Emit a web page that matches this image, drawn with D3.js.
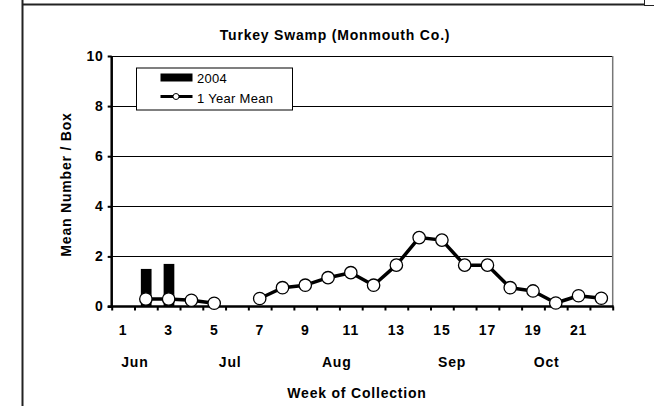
<!DOCTYPE html>
<html>
<head>
<meta charset="utf-8">
<script src="https://cdn.jsdelivr.net/npm/d3@7"></script>
<style>
  body { margin: 0; background: #fff; }
  svg { display: block; font-family: "Liberation Sans", Arial, sans-serif; }
</style>
</head>
<body>
<div id="chart"></div>
<script>
// Chart data
let weeks = d3.range(1, 23);
let bars2004 = [null, 1.5, 1.7, null, null, null, null, null, null, null, null,
                null, null, null, null, null, null, null, null, null, null, null];
let yearMean = [null, 0.3, 0.3, 0.25, 0.13, null, 0.32, 0.75, 0.85, 1.15, 1.35,
                0.85, 1.65, 2.75, 2.65, 1.65, 1.65, 0.75, 0.62, 0.14, 0.43, 0.33];
let yTicks = [0, 2, 4, 6, 8, 10];
let xTickLabels = [1, 3, 5, 7, 9, 11, 13, 15, 17, 19, 21];
let months = ["Jun", "Jul", "Aug", "Sep", "Oct"];
let monthPos = [1.52, 5.7, 10.38, 15.45, 19.6];

// Set size
let w = 654;
let h = 406;
let plotLeft = 111.7, plotRight = 612.7, plotTop = 56, plotBottom = 306.5;

let svg = d3.select("#chart").append("svg").attr("width", w).attr("height", h);

function boldText(sel) {
  return sel.attr("font-size", "14px").attr("font-weight", "bold")
    .attr("letter-spacing", "0.8px").attr("fill", "#000");
}

// Outer frame
svg.append("line").attr("x1", 22.5).attr("x2", 22.5).attr("y1", 0).attr("y2", h)
  .attr("stroke", "#222").attr("stroke-width", 2);
svg.append("line").attr("x1", 22).attr("x2", 644).attr("y1", 4.5).attr("y2", 4.5)
  .attr("stroke", "#222").attr("stroke-width", 2);
svg.append("line").attr("x1", 644).attr("x2", w).attr("y1", 5.5).attr("y2", 5.5)
  .attr("stroke", "#222").attr("stroke-width", 1);
svg.append("line").attr("x1", 644.5).attr("x2", 644.5).attr("y1", 0).attr("y2", 5)
  .attr("stroke", "#222").attr("stroke-width", 1);

let xScale = d3.scaleBand().domain(weeks).range([plotLeft, plotRight]).padding(0);
let xPos = d3.scaleLinear().domain([0.5, 22.5]).range([plotLeft, plotRight]);
let yScale = d3.scaleLinear().domain([0, 10]).range([plotBottom, plotTop]);

// Gridlines
svg.append("g")
  .selectAll("line")
  .data(yTicks.filter((d) => d > 0))
  .enter()
  .append("line")
  .attr("x1", plotLeft).attr("x2", plotRight)
  .attr("y1", (d) => Math.round(yScale(d)) + 0.5)
  .attr("y2", (d) => Math.round(yScale(d)) + 0.5)
  .attr("stroke", "#000").attr("stroke-width", 1);

// Right border
svg.append("line").attr("x1", plotRight).attr("x2", plotRight)
  .attr("y1", plotTop).attr("y2", plotBottom)
  .attr("stroke", "#777").attr("stroke-width", 1.5);

// Bars
svg.append("g")
  .selectAll("rect")
  .data(weeks.filter((d, i) => bars2004[i] != null))
  .enter()
  .append("rect")
  .attr("x", (d) => xScale(d) + xScale.bandwidth() * 0.28)
  .attr("width", xScale.bandwidth() * 0.47)
  .attr("y", (d) => yScale(bars2004[d - 1]))
  .attr("height", (d) => plotBottom - yScale(bars2004[d - 1]))
  .attr("fill", "#000");

// Axes
let yAxis = d3.axisLeft(yScale).tickValues(yTicks).tickSize(4).tickFormat(d3.format("d"));
let gy = svg.append("g").attr("transform", "translate(" + plotLeft + ",0)").call(yAxis);
gy.select(".domain").attr("stroke-width", 2.5).attr("d", "M0," + plotTop + "V" + plotBottom);
gy.selectAll(".tick line").attr("stroke-width", 2);
boldText(gy.selectAll(".tick text"))
  .attr("font-family", "Liberation Sans, Arial, sans-serif").attr("x", -8);

let xAxis = d3.axisBottom(xPos).tickValues(d3.range(0.5, 23.5, 1)).tickSize(4).tickFormat("");
let gx = svg.append("g").attr("transform", "translate(0," + plotBottom + ")").call(xAxis);
gx.select(".domain").attr("stroke-width", 2.5).attr("d", "M" + (plotLeft - 4) + ",0H" + (plotRight + 1));
gx.selectAll(".tick line").attr("stroke-width", 2);

boldText(svg.append("g")
  .selectAll("text")
  .data(xTickLabels)
  .enter()
  .append("text")
  .text((d) => d)
  .attr("x", (d) => xScale(d) + xScale.bandwidth() / 2)
  .attr("y", 335)
  .attr("text-anchor", "middle"));

boldText(svg.append("g")
  .selectAll("text")
  .data(months)
  .enter()
  .append("text")
  .text((d) => d)
  .attr("x", (d, i) => xPos(monthPos[i]))
  .attr("y", 366.5)
  .attr("text-anchor", "middle"));

// Line
let line = d3.line()
  .defined((d, i) => yearMean[i] != null)
  .x((d) => xScale(d) + xScale.bandwidth() / 2)
  .y((d, i) => yScale(yearMean[i]));
svg.append("path").datum(weeks).attr("d", line)
  .attr("fill", "none").attr("stroke", "#000").attr("stroke-width", 3.5)
  .attr("stroke-linejoin", "round");

svg.append("g")
  .selectAll("circle")
  .data(weeks.filter((d, i) => yearMean[i] != null))
  .enter()
  .append("circle")
  .attr("cx", (d) => xScale(d) + xScale.bandwidth() / 2)
  .attr("cy", (d) => yScale(yearMean[d - 1]))
  .attr("r", 6.2)
  .attr("fill", "#fff").attr("stroke", "#000").attr("stroke-width", 1.3);

// Titles
boldText(svg.append("text").text("Turkey Swamp (Monmouth Co.)")
  .attr("x", 335).attr("y", 40).attr("text-anchor", "middle"));
boldText(svg.append("text").text("Week of Collection")
  .attr("x", 357).attr("y", 397.5).attr("text-anchor", "middle"));
boldText(svg.append("text").text("Mean Number / Box")
  .attr("transform", "translate(70.5,184.5) rotate(-90)").attr("text-anchor", "middle"));

// Legend
let lg = svg.append("g");
lg.append("rect").attr("x", 136.5).attr("y", 68).attr("width", 156).attr("height", 42)
  .attr("fill", "#fff").attr("stroke", "#000").attr("stroke-width", 1);
lg.append("rect").attr("x", 160.5).attr("y", 73.5).attr("width", 32).attr("height", 8)
  .attr("fill", "#000");
lg.append("text").text("2004").attr("x", 197).attr("y", 83)
  .attr("font-size", "13px").attr("letter-spacing", "0.3px");
lg.append("line").attr("x1", 160.5).attr("x2", 192.5).attr("y1", 96.5).attr("y2", 96.5)
  .attr("stroke", "#000").attr("stroke-width", 3);
lg.append("circle").attr("cx", 176).attr("cy", 96.5).attr("r", 3)
  .attr("fill", "#fff").attr("stroke", "#000").attr("stroke-width", 1);
lg.append("text").text("1 Year Mean").attr("x", 197).attr("y", 102.5)
  .attr("font-size", "13px").attr("letter-spacing", "0.3px");
</script>
</body>
</html>
